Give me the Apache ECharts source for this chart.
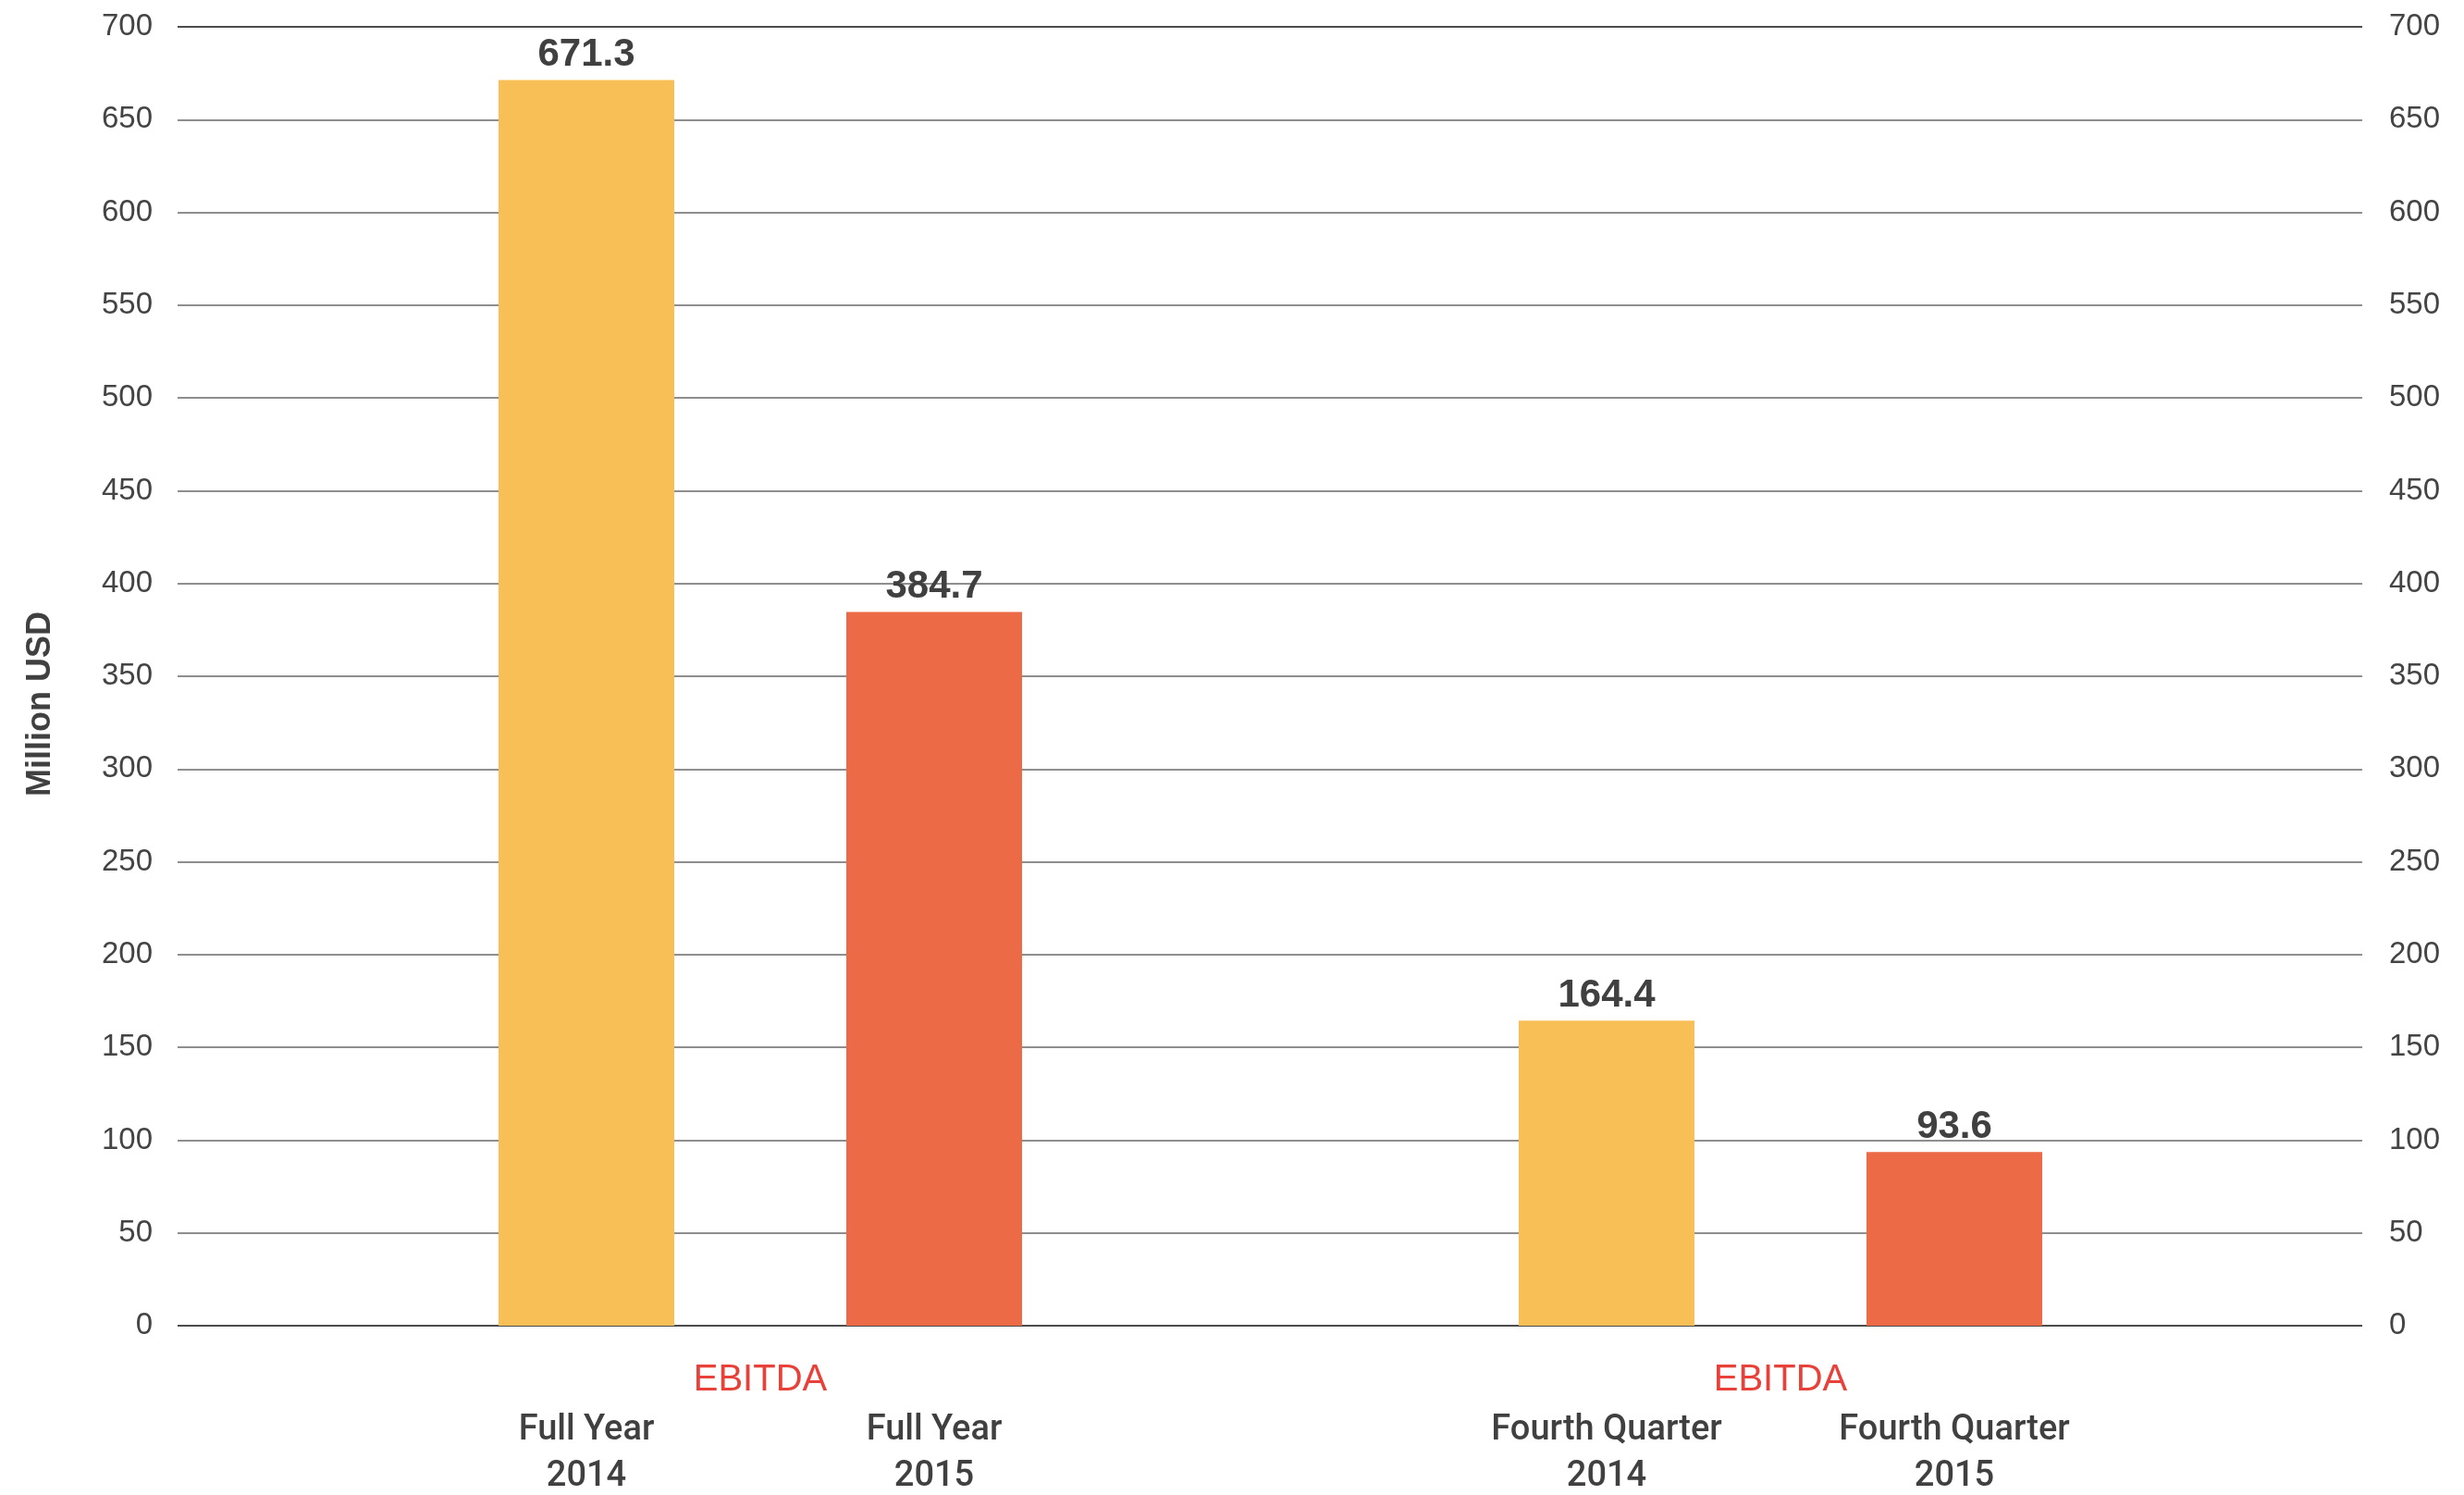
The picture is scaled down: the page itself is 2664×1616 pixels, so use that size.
<!DOCTYPE html>
<html>
<head>
<meta charset="utf-8">
<title>EBITDA</title>
<script src="https://cdn.jsdelivr.net/npm/echarts@6/dist/echarts.min.js"></script>
<style>
  html, body { margin: 0; padding: 0; background: #ffffff; }
  #chart { width: 2664px; height: 1616px; }
</style>
</head>
<body>
<div id="chart"></div>
<script>
// Chart data
const groupHeaders = ['EBITDA', 'EBITDA'];
const periods = ['Full Year', 'Fourth Quarter'];
const years = ['2014', '2015'];
const ebitda2014 = [671.3, 164.4];
const ebitda2015 = [384.7, 93.6];
const yTicks = { min: 0, max: 700, interval: 50 };

const TEXT = '#404040';
const FONT = '"Liberation Sans", Arial, sans-serif';
const CAT_FONT = 'Roboto, "Liberation Sans", sans-serif';
const YELLOW = '#F9BF57';
const ORANGE = '#EC6B46';

// Grid line colours: bottom and top lines dark, the rest grey
const lineCount = (yTicks.max - yTicks.min) / yTicks.interval + 1;
const gridColors = [];
for (let i = 0; i < lineCount; i++) {
  gridColors.push(i === 0 || i === lineCount - 1 ? '#111111' : '#686868');
}

const tickLabel = { color: '#444444', fontFamily: FONT, fontSize: 33 };

const chart = echarts.init(document.getElementById('chart'), null, { renderer: 'canvas' });

chart.setOption({
  backgroundColor: '#ffffff',
  animation: false,
  grid: [
    // full-width grid carrying the two value axes and the horizontal lines
    { left: 192, right: 110, top: 29, bottom: 183 },
    // bar grid, narrower so the groups sit where they belong
    { left: 270.5, right: 187.5, top: 29, bottom: 183 }
  ],
  xAxis: [
    { type: 'category', gridIndex: 0, data: periods, show: false },
    {
      type: 'category', gridIndex: 1, data: periods,
      axisLine: { show: false },
      axisTick: { show: false },
      axisLabel: {
        margin: 30,
        interval: 0,
        formatter: function (value, idx) {
          return '{e|' + groupHeaders[idx] + '}\n' +
            '{c|' + value + '}{c|' + value + '}\n' +
            '{c|' + years[0] + '}{c|' + years[1] + '}';
        },
        rich: {
          e: { color: '#E8413A', fontFamily: FONT, fontSize: 40, lineHeight: 58, align: 'center' },
          c: { color: TEXT, fontFamily: CAT_FONT, fontSize: 38, fontWeight: 500, lineHeight: 50, width: 376, align: 'center' }
        }
      }
    }
  ],
  yAxis: [
    {
      type: 'value', gridIndex: 0, position: 'left',
      min: yTicks.min, max: yTicks.max, interval: yTicks.interval,
      name: 'Million USD',
      nameLocation: 'middle',
      nameGap: 130,
      nameTextStyle: { color: TEXT, fontFamily: FONT, fontSize: 36, fontWeight: 'bold', padding: [0, 60, 0, 0] },
      axisLine: { show: false },
      axisTick: { show: false },
      axisLabel: Object.assign({ margin: 27 }, tickLabel),
      splitLine: { show: true, lineStyle: { color: gridColors, width: 1.6 } }
    },
    {
      type: 'value', gridIndex: 0, position: 'right',
      min: yTicks.min, max: yTicks.max, interval: yTicks.interval,
      axisLine: { show: false },
      axisTick: { show: false },
      axisLabel: Object.assign({ margin: 29 }, tickLabel),
      splitLine: { show: false }
    },
    {
      type: 'value', gridIndex: 1,
      min: yTicks.min, max: yTicks.max, interval: yTicks.interval,
      show: false,
      splitLine: { show: false }
    }
  ],
  series: [
    {
      name: years[0], type: 'bar', xAxisIndex: 1, yAxisIndex: 2,
      data: ebitda2014,
      barWidth: 190, barGap: '97.9%',
      itemStyle: { color: YELLOW },
      label: { show: true, position: 'top', distance: 6, color: TEXT, fontFamily: FONT, fontSize: 42, fontWeight: 'bold' }
    },
    {
      name: years[1], type: 'bar', xAxisIndex: 1, yAxisIndex: 2,
      data: ebitda2015,
      barWidth: 190, barGap: '97.9%',
      itemStyle: { color: ORANGE },
      label: { show: true, position: 'top', distance: 6, color: TEXT, fontFamily: FONT, fontSize: 42, fontWeight: 'bold' }
    }
  ]
});
</script>
</body>
</html>
